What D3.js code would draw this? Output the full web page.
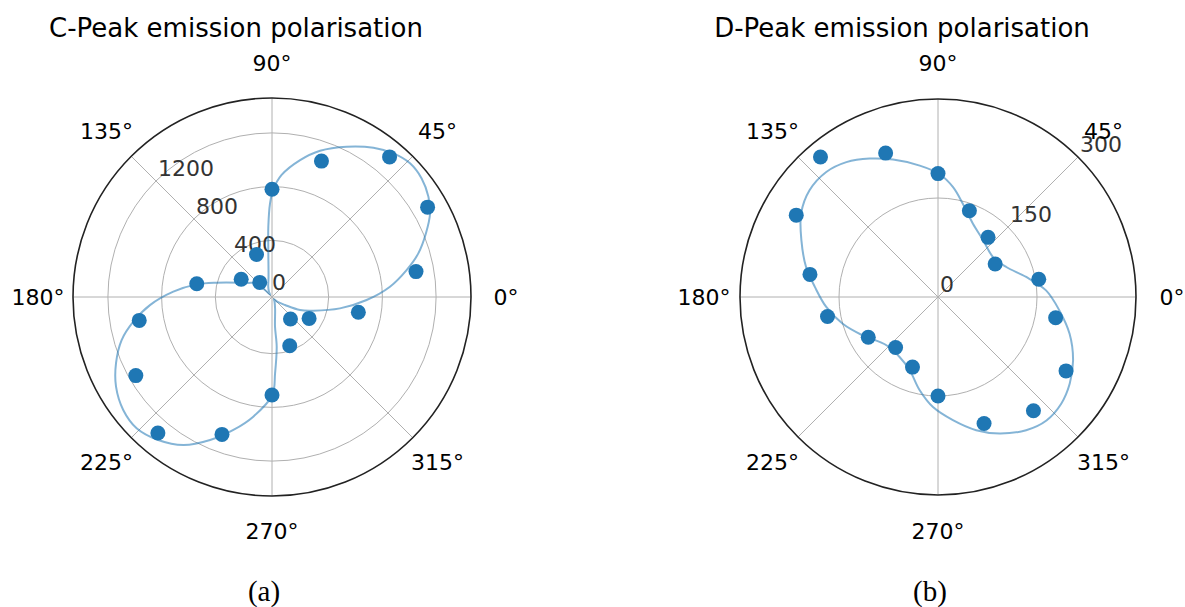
<!DOCTYPE html>
<html>
<head>
<meta charset="utf-8">
<script src="https://cdn.jsdelivr.net/npm/d3@7"></script>
<style>
  body { margin: 0; background: #fff; }
  text { font-family: "DejaVu Sans", sans-serif; }
</style>
</head>
<body>
<div id="chart"></div>
<script>
// measured angles (deg) for both peaks
const angles = [10, 30, 50, 70, 90, 110, 130, 150, 170, 190, 210, 230, 250, 270, 290, 310, 330, 350];
const cPeak = [1067, 1316, 1340, 1055, 780, 315, 120, 243, 547, 982, 1149, 1300, 1067, 708, 364, 192, 297, 631];
const dPeak = [155, 100, 118, 139, 187, 232, 277, 248, 197, 170, 122, 100, 113, 150, 204, 225, 224, 181];

// fitted curves
const cFitAngles = [5, 11.3, 16.6, 22.5, 27.9, 32.7, 38.4, 44.1, 49.8, 55.8, 63.6, 71.8, 78.4, 85.5, 89.3, 91.2, 93, 94.5,
  100, 110, 121, 130, 135, 140.5, 150, 155.9, 165.5, 170.5, 176.9, 183.8, 190.1, 196, 203, 209.9, 217.2, 224.1, 231.5, 239.1,
  246.6, 253.8, 261.1, 270.2, 272.3, 275.4, 275.8, 285, 300, 310, 320, 328.4, 335, 341.7, 350.5, 358.2];
const cFitValues = [860, 1000, 1115, 1219, 1310, 1362, 1400, 1409, 1378, 1322, 1228, 1125, 1019, 890, 780, 676, 502, 329,
  127, 60, 21, 0, 52, 142, 186, 239, 404, 547, 714, 889, 1027, 1143, 1240, 1318, 1369, 1382, 1339, 1263,
  1139, 1009, 880, 708, 547, 350, 200, 67, 15, 0, 38, 92, 208, 302, 491, 683];

const dFitAngles = [3.5, 12.8, 23.7, 36, 51.5, 64.5, 75, 82.2, 89.2, 97.9, 108.1, 116.3, 124.2, 131.8, 140.3, 148.6,
  157.5, 167.2, 175.4, 185.1, 195.7, 207.1, 223.1, 237.4, 248.9, 258.9, 267.4, 276.9, 286, 294.3, 303.5, 311.3,
  319.1, 326.6, 334.9, 344.4, 353.7];
const dFitValues = [164, 137, 113, 103, 110, 123, 146, 168, 186, 201, 219, 234, 247, 254, 253, 243,
  224, 205, 187, 170, 150, 128, 107, 108, 119, 144, 167, 188, 210, 227, 242, 249,
  247, 239, 226, 207, 185];

const thetaTicks = [0, 45, 90, 135, 180, 225, 270, 315];
const cTicks = [0, 400, 800, 1200];
const dTicks = [0, 150, 300];

const width = 1185;
const height = 607;
const rad = Math.PI / 180;

const svg = d3.select('#chart').append('svg')
  .attr('width', width)
  .attr('height', height);

function drawPolar(opts) {
  const g = svg.append('g').attr('transform', `translate(${opts.cx},${opts.cy})`);
  const r = d3.scaleLinear().domain(opts.domain).range([0, opts.radius]);

  // rings
  g.selectAll('.ring')
    .data(opts.ticks.filter(t => r(t) > 5 && r(t) < opts.radius - 1))
    .enter().append('circle')
    .attr('r', d => r(d))
    .attr('fill', 'none')
    .attr('stroke', '#b0b0b0')
    .attr('stroke-width', 1);

  // spokes
  g.selectAll('.spoke')
    .data(thetaTicks)
    .enter().append('line')
    .attr('x1', 0).attr('y1', 0)
    .attr('x2', d => opts.radius * Math.cos(d * rad))
    .attr('y2', d => -opts.radius * Math.sin(d * rad))
    .attr('stroke', '#b0b0b0')
    .attr('stroke-width', 1);

  // radial labels
  const la = opts.labelAngle * rad;
  g.selectAll('.rlabel')
    .data(opts.ticks)
    .enter().append('text')
    .attr('x', d => r(d) * Math.cos(la) + 2)
    .attr('y', d => -r(d) * Math.sin(la) - 5)
    .attr('font-size', 22)
    .attr('fill', '#333')
    .text(d => d);

  // fitted curve
  const fit = opts.fitAngles.map((a, i) => ({ a: a, v: opts.fitValues[i] }));
  const line = d3.lineRadial()
    .angle(d => Math.PI / 2 - d.a * rad)
    .radius(d => r(d.v))
    .curve(d3.curveCatmullRomClosed);
  g.append('path')
    .attr('d', line(fit))
    .attr('fill', 'none')
    .attr('stroke', '#1f77b4')
    .attr('stroke-opacity', 0.55)
    .attr('stroke-width', 2);

  // data points
  g.selectAll('.pt')
    .data(angles.map((a, i) => ({ a: a, v: opts.values[i] })))
    .enter().append('circle')
    .attr('cx', d => r(d.v) * Math.cos(d.a * rad))
    .attr('cy', d => -r(d.v) * Math.sin(d.a * rad))
    .attr('r', 7.5)
    .attr('fill', '#1f77b4');

  // outer frame
  g.append('circle')
    .attr('r', opts.radius)
    .attr('fill', 'none')
    .attr('stroke', '#222')
    .attr('stroke-width', 1.6);

  // angle labels
  g.selectAll('.tlabel')
    .data(thetaTicks)
    .enter().append('text')
    .attr('x', d => 234 * Math.cos(d * rad))
    .attr('y', d => -234 * Math.sin(d * rad))
    .attr('dy', '0.36em')
    .attr('text-anchor', 'middle')
    .attr('font-size', 22)
    .attr('fill', '#000')
    .text(d => d + '°');

  svg.append('text')
    .attr('x', opts.cx - 36)
    .attr('y', 37)
    .attr('text-anchor', 'middle')
    .attr('font-size', 26)
    .text(opts.title);

  svg.append('text')
    .attr('x', opts.cx - 8)
    .attr('y', 601)
    .attr('text-anchor', 'middle')
    .attr('font-size', 29)
    .style('font-family', '"Liberation Serif", serif')
    .text(opts.caption);
}

drawPolar({
  cx: 272, cy: 297, radius: 199,
  domain: [-22, 1460],
  ticks: cTicks, labelAngle: 135,
  values: cPeak, fitAngles: cFitAngles, fitValues: cFitValues,
  title: 'C-Peak emission polarisation', caption: '(a)'
});

drawPolar({
  cx: 938, cy: 297, radius: 198,
  domain: [0, 300],
  ticks: dTicks, labelAngle: 45,
  values: dPeak, fitAngles: dFitAngles, fitValues: dFitValues,
  title: 'D-Peak emission polarisation', caption: '(b)'
});
</script>
</body>
</html>
